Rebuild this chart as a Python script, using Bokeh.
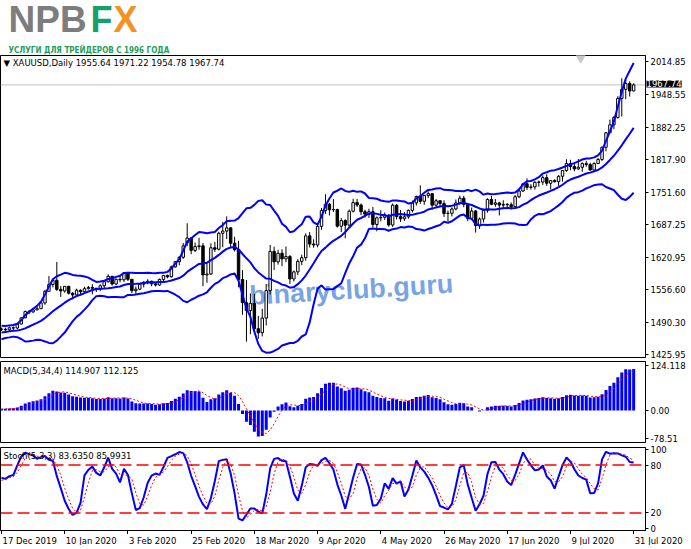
import numpy as np
import pandas as pd
from bokeh.plotting import figure
from bokeh.layouts import column
from bokeh.models import FixedTicker, Range1d, Label, Span, ColumnDataSource, NumeralTickFormatter
from bokeh.core.properties import value
from bokeh.embed import file_html
from bokeh.resources import INLINE

# ---------------- data ----------------
# bars before the first visible one (27 Nov - 16 Dec 2019), needed by the indicators
hist_open = [1461.5, 1454.5, 1457.5, 1463.3, 1463.5, 1477.1, 1474.3, 1474.6, 1459.9, 1462.6, 1464.8, 1475.2, 1470.2, 1475.4]
hist_high = [1462.5, 1459.5, 1466.0, 1467.0, 1479.5, 1485.0, 1482.5, 1477.5, 1466.0, 1469.0, 1477.0, 1484.0, 1485.0, 1479.0]
hist_low = [1451.5, 1453.5, 1454.5, 1454.0, 1462.5, 1470.0, 1471.5, 1458.0, 1458.5, 1460.5, 1461.5, 1466.0, 1460.0, 1472.5]
hist_close = [1454.5, 1457.5, 1463.3, 1463.5, 1477.1, 1474.3, 1474.6, 1459.9, 1462.6, 1464.8, 1475.2, 1470.2, 1475.4, 1476.3]

# visible daily bars, 17 Dec 2019 .. 31 Jul 2020
opens = [1476.3, 1475.9, 1474.8, 1478.9, 1478.5, 1486.5, 1499.0, 1511.5, 1510.8, 1514.9,
         1517.3, 1528.9, 1552.4, 1566.0, 1574.5, 1556.2, 1553.0, 1562.3, 1548.5, 1545.0,
         1554.5, 1551.5, 1557.5, 1560.0, 1558.5, 1556.5, 1563.4, 1571.5, 1582.6, 1567.0,
         1576.5, 1575.5, 1589.2, 1576.5, 1553.5, 1556.6, 1566.8, 1570.5, 1572.5, 1567.4,
         1565.0, 1576.2, 1584.2, 1581.5, 1601.5, 1612.0, 1620.8, 1650.0, 1659.5, 1634.7,
         1642.3, 1643.8, 1585.3, 1587.0, 1640.0, 1637.0, 1669.0, 1673.5, 1680.0, 1649.0,
         1636.0, 1576.0, 1529.5, 1513.5, 1528.0, 1477.0, 1469.0, 1498.5, 1553.8, 1632.7,
         1611.6, 1628.8, 1617.5, 1622.3, 1577.2, 1591.4, 1612.5, 1620.0, 1663.9, 1647.4,
         1645.5, 1683.0, 1714.7, 1727.4, 1716.5, 1717.0, 1683.4, 1694.6, 1685.5, 1713.5,
         1731.0, 1726.0, 1712.5, 1707.5, 1712.5, 1686.8, 1700.2, 1701.3, 1705.5, 1685.8,
         1725.6, 1702.7, 1698.2, 1702.3, 1715.2, 1730.3, 1743.2, 1733.5, 1745.2, 1748.8,
         1725.6, 1734.6, 1728.9, 1709.0, 1709.4, 1718.0, 1730.1, 1739.6, 1727.4, 1699.2,
         1714.0, 1684.6, 1697.8, 1715.2, 1737.2, 1727.5, 1730.2, 1725.8, 1727.3, 1726.5,
         1722.7, 1742.6, 1754.2, 1768.7, 1761.5, 1762.5, 1771.7, 1772.2, 1781.0, 1769.8,
         1775.2, 1773.0, 1783.8, 1795.3, 1809.6, 1803.5, 1798.6, 1802.0, 1809.3, 1807.3,
         1796.5, 1809.5, 1817.7, 1842.2, 1871.4, 1887.4, 1902.1, 1940.5, 1958.8, 1970.5,
         1955.64]
highs = [1479.5, 1479.0, 1481.2, 1481.6, 1487.5, 1499.7, 1513.5, 1514.9, 1519.1, 1523.4,
         1529.9, 1555.4, 1582.8, 1576.1, 1611.4, 1562.8, 1562.5, 1563.5, 1550.5, 1557.7,
         1556.2, 1561.5, 1563.1, 1566.7, 1559.0, 1566.4, 1573.6, 1586.6, 1583.0, 1578.0,
         1584.0, 1589.9, 1591.5, 1576.8, 1562.0, 1568.5, 1572.8, 1576.5, 1574.0, 1569.5,
         1578.0, 1585.0, 1586.0, 1604.0, 1612.5, 1623.0, 1649.5, 1689.3, 1661.5, 1650.5,
         1660.0, 1649.5, 1611.5, 1649.0, 1652.0, 1672.0, 1692.0, 1703.0, 1681.5, 1662.0,
         1654.0, 1595.0, 1575.0, 1548.0, 1547.0, 1503.0, 1517.0, 1567.0, 1645.5, 1642.0,
         1636.0, 1637.0, 1642.5, 1625.5, 1594.0, 1617.0, 1626.0, 1669.0, 1671.5, 1657.0,
         1690.0, 1720.0, 1747.7, 1730.0, 1738.0, 1718.5, 1700.0, 1697.5, 1717.0, 1738.5,
         1738.0, 1729.0, 1716.5, 1718.5, 1722.0, 1703.0, 1715.5, 1711.0, 1707.5, 1729.0,
         1728.0, 1716.0, 1711.5, 1717.0, 1735.0, 1745.0, 1765.5, 1746.5, 1753.5, 1750.0,
         1738.0, 1735.0, 1735.5, 1715.0, 1721.0, 1737.0, 1745.0, 1744.5, 1729.0, 1721.0,
         1716.0, 1701.0, 1718.5, 1739.5, 1744.5, 1738.0, 1732.5, 1735.5, 1730.0, 1731.0,
         1746.0, 1756.0, 1769.0, 1779.5, 1768.0, 1774.0, 1775.0, 1785.5, 1788.0, 1776.0,
         1778.0, 1786.0, 1796.5, 1818.0, 1817.0, 1808.5, 1818.5, 1812.0, 1815.0, 1811.0,
         1812.0, 1820.5, 1843.5, 1872.5, 1898.0, 1905.0, 1945.0, 1981.0, 1977.0, 1975.0,
         1971.22]
lows = [1472.5, 1472.8, 1472.0, 1474.3, 1476.5, 1485.9, 1498.0, 1506.6, 1509.0, 1514.0,
        1517.0, 1525.2, 1552.2, 1560.0, 1553.2, 1540.9, 1549.5, 1546.0, 1536.2, 1542.0,
        1546.3, 1549.0, 1556.0, 1546.2, 1551.0, 1553.0, 1558.0, 1570.0, 1563.8, 1564.5,
        1570.5, 1570.8, 1573.0, 1548.5, 1547.0, 1554.5, 1560.2, 1566.5, 1562.5, 1562.0,
        1563.0, 1572.5, 1578.5, 1580.0, 1600.0, 1604.5, 1617.5, 1643.0, 1627.0, 1631.0,
        1636.0, 1562.5, 1569.5, 1585.5, 1631.5, 1634.5, 1641.0, 1657.5, 1640.5, 1632.5,
        1560.5, 1505.0, 1451.0, 1466.0, 1472.0, 1456.5, 1461.5, 1483.5, 1546.0, 1595.0,
        1606.0, 1603.0, 1611.0, 1567.0, 1572.0, 1585.0, 1605.0, 1614.0, 1640.5, 1640.0,
        1641.0, 1676.0, 1708.0, 1705.0, 1712.0, 1680.5, 1671.5, 1659.0, 1681.5, 1711.0,
        1722.0, 1705.5, 1701.0, 1700.0, 1681.0, 1673.0, 1693.0, 1696.0, 1682.5, 1682.0,
        1697.0, 1692.0, 1694.0, 1698.5, 1711.0, 1725.0, 1728.5, 1726.5, 1740.0, 1717.0,
        1722.5, 1723.5, 1702.0, 1693.0, 1703.0, 1715.5, 1727.0, 1721.5, 1693.5, 1697.0,
        1670.5, 1678.0, 1691.0, 1710.5, 1725.5, 1722.5, 1705.0, 1719.0, 1717.5, 1717.0,
        1721.0, 1740.0, 1752.0, 1756.5, 1757.0, 1757.0, 1763.0, 1766.5, 1764.5, 1757.0,
        1771.0, 1764.5, 1773.0, 1793.0, 1796.0, 1794.0, 1797.0, 1793.0, 1803.0, 1795.0,
        1796.0, 1808.5, 1814.5, 1834.0, 1871.0, 1878.5, 1900.0, 1904.0, 1939.0, 1944.5,
        1954.78]
closes = [1475.9, 1474.8, 1478.9, 1478.5, 1486.5, 1498.9, 1511.5, 1510.8, 1514.9, 1517.3,
          1528.9, 1552.4, 1566.0, 1574.5, 1556.2, 1553.0, 1562.3, 1548.5, 1545.0, 1554.5,
          1551.5, 1557.5, 1560.0, 1558.5, 1556.5, 1563.4, 1571.5, 1582.6, 1567.0, 1576.5,
          1575.5, 1589.2, 1576.5, 1553.5, 1556.6, 1566.8, 1570.5, 1572.5, 1567.4, 1565.0,
          1576.2, 1584.2, 1581.5, 1601.5, 1612.0, 1620.8, 1643.6, 1659.5, 1634.7, 1642.3,
          1643.8, 1585.3, 1587.0, 1640.0, 1637.0, 1669.0, 1673.5, 1680.0, 1649.0, 1636.0,
          1576.0, 1529.5, 1513.5, 1528.0, 1477.0, 1469.0, 1498.5, 1553.8, 1632.7, 1611.6,
          1628.8, 1617.5, 1622.3, 1577.2, 1591.4, 1612.5, 1620.0, 1663.9, 1647.4, 1645.5,
          1683.0, 1714.7, 1727.4, 1716.5, 1717.0, 1683.4, 1694.6, 1685.5, 1713.5, 1731.0,
          1726.0, 1712.5, 1707.5, 1712.5, 1686.8, 1700.2, 1701.3, 1705.5, 1685.8, 1725.6,
          1702.7, 1698.2, 1702.3, 1715.2, 1730.3, 1743.2, 1733.5, 1745.2, 1748.8, 1725.6,
          1734.6, 1728.9, 1709.0, 1709.4, 1718.0, 1730.1, 1739.6, 1727.4, 1699.2, 1714.0,
          1684.6, 1697.8, 1715.2, 1737.2, 1727.5, 1730.2, 1725.8, 1727.3, 1726.5, 1722.7,
          1742.6, 1754.2, 1768.7, 1761.5, 1762.5, 1771.7, 1772.2, 1781.0, 1769.8, 1775.2,
          1773.0, 1783.8, 1795.3, 1809.6, 1803.5, 1798.6, 1802.0, 1809.3, 1807.3, 1796.5,
          1809.5, 1817.7, 1842.2, 1871.4, 1887.4, 1902.1, 1940.5, 1958.8, 1970.5, 1955.6,
          1967.74]

date_ticks = [0, 16, 32, 48, 64, 80, 96, 112, 128, 144, 160]
date_labels = ["17 Dec 2019", "10 Jan 2020", "3 Feb 2020", "25 Feb 2020", "18 Mar 2020",
               "9 Apr 2020", "4 May 2020", "26 May 2020", "17 Jun 2020", "9 Jul 2020", "31 Jul 2020"]
price_ticks = [2014.85, 1948.55, 1882.25, 1817.90, 1751.60, 1687.25, 1620.95, 1556.60, 1490.30, 1425.95]
macd_ticks = [124.118, 0.0, -78.51]
macd_tick_labels = ["124.118", "0.00", "-78.51"]
stoch_ticks = [100, 80, 20, 0]
stoch_levels = [80, 20]
bid_price = 1967.74
bb_period, bb_dev = 14, 2.0
macd_fast, macd_slow, macd_sig = 5, 34, 4
st_k, st_slow, st_d = 5, 3, 3

# ---------------- indicators ----------------
n_hist = len(hist_close)
c = pd.Series(hist_close + closes, dtype=float)
h = pd.Series(hist_high + highs, dtype=float)
lo = pd.Series(hist_low + lows, dtype=float)


def ema(series, n, seed):
    k = 2.0 / (n + 1)
    e = seed
    out = []
    for v in series:
        e = e + k * (v - e)
        out.append(e)
    return pd.Series(out)


seed = float(np.mean(hist_close))
macd_main = ema(c, macd_fast, seed) - ema(c, macd_slow, seed)
macd_signal = macd_main.rolling(macd_sig, min_periods=1).mean()
bb_mid = c.rolling(bb_period, min_periods=1).mean()
bb_sd = c.rolling(bb_period, min_periods=1).std(ddof=0)
bb_up = bb_mid + bb_dev * bb_sd
bb_lo = bb_mid - bb_dev * bb_sd
ll = lo.rolling(st_k, min_periods=1).min()
hh = h.rolling(st_k, min_periods=1).max()
st_main = 100 * (c - ll).rolling(st_slow, min_periods=1).sum() / (hh - ll).rolling(st_slow, min_periods=1).sum()
st_signal = st_main.rolling(st_d, min_periods=1).mean()

N = len(closes)
xs = list(range(N))
vis = slice(n_hist, None)

# ---------------- layout constants (pixels) ----------------
FONT = "DejaVu Sans"
TOTAL_W = 691
FW = 645
RB = TOTAL_W - FW
X0, X1 = -0.253, 163.0
PX_PER_BAR = FW / (X1 - X0)
XR = Range1d(X0, X1)
Y0, Y1 = 1419.1, 2026.9
SLOT = 8          # height Bokeh gives one small text annotation in a side panel
TOP = 55          # reference position of the main frame's top edge


def style_axis(ax):
    ax.major_label_text_font = FONT
    ax.major_label_text_font_size = "8.5px"
    ax.major_label_text_color = "black"
    ax.axis_line_color = "black"
    ax.major_tick_line_color = "black"
    ax.major_tick_in = 0
    ax.major_tick_out = 3
    ax.minor_tick_line_color = None
    ax.major_label_standoff = 2


def base_fig(fh, yr, top, bottom, xloc=None):
    f = figure(frame_width=FW, frame_height=fh, x_range=XR,
               y_range=yr, x_axis_location=xloc, y_axis_location="right",
               output_backend="svg", toolbar_location=None,
               min_border_left=0, min_border_right=RB, min_border_top=top, min_border_bottom=bottom,
               background_fill_color="white", border_fill_color="white")
    f.outline_line_color = "black"
    f.outline_line_width = 1
    f.grid.visible = False
    return f


# ---------------- logo strip ----------------
LH = TOP - 2 * SLOT
pl = figure(frame_width=TOTAL_W, frame_height=LH, x_range=Range1d(0, TOTAL_W), y_range=Range1d(0, LH),
            x_axis_location=None, y_axis_location=None, output_backend="svg", toolbar_location=None,
            min_border=0, background_fill_color="white", border_fill_color="white")
pl.outline_line_color = None
pl.grid.visible = False
LOGO_FONT = "Liberation Sans"
for txt, x0, col, sz in (("NPB", 8, "#7d7d7d", "37px"), ("F", 90, "#16a06c", "36px"),
                         ("X", 113, "#f39325", "36px")):
    pl.add_layout(Label(x=x0, y=LH - 18.5, text=txt, text_font=LOGO_FONT, text_font_style="bold",
                        text_font_size=sz, text_color=col, text_baseline="middle"))

# ---------------- main price panel ----------------
MH = 302
p = base_fig(MH, Range1d(Y0, Y1), 0, 3)
style_axis(p.yaxis[0])
p.yaxis[0].ticker = FixedTicker(ticks=price_ticks)
p.yaxis[0].formatter = NumeralTickFormatter(format="0.00")

# two small side-panel annotations above the frame (not clipped to the frame):
# slot nearest the frame carries the logo's subtitle, the next one the current-price tag
p.add_layout(Label(x=8, y=TOP - 49.5, x_units="screen", y_units="screen",
                   text="УСЛУГИ ДЛЯ ТРЕЙДЕРОВ С 1996 ГОДА",
                   text_font="'DejaVu Sans Condensed', 'Liberation Sans Narrow', 'Liberation Sans'",
                   text_font_style="bold", text_font_size="8px", text_color="#1f9e5a",
                   text_baseline="alphabetic"), "above")
tag_offset = (Y1 - bid_price) / (Y1 - Y0) * MH
p.add_layout(Label(x=FW + 1, y=-(tag_offset + SLOT), x_units="screen", y_units="screen", text="1967.74",
                   text_font=FONT, text_font_size="8.5px", text_baseline="middle", text_color="white",
                   background_fill_color="black"), "above")

p.add_layout(Span(location=bid_price, dimension="width", line_color="#c0c0c0", line_width=1, level="underlay"))

p.add_layout(Label(x=63.0, y=1513, text="binaryclub.guru", angle=0.06, text_font="Liberation Sans",
                   text_font_style="bold", text_font_size="27px", text_color="#5f93e0", text_alpha=0.85,
                   level="underlay"))

src = ColumnDataSource(dict(x=xs, o=opens, h=highs, l=lows, c=closes))
inc = [i for i in xs if closes[i] >= opens[i]]
dec = [i for i in xs if closes[i] < opens[i]]
p.segment(x0="x", y0="h", x1="x", y1="l", source=src, line_color="black", line_width=1)
p.vbar(x=[xs[i] for i in inc], bottom=[opens[i] for i in inc], top=[closes[i] for i in inc], width=0.62,
       fill_color="white", line_color="black", line_width=1)
p.vbar(x=[xs[i] for i in dec], bottom=[closes[i] for i in dec], top=[opens[i] for i in dec], width=0.62,
       fill_color="black", line_color="black", line_width=1)

for band in (bb_up, bb_mid, bb_lo):
    p.line(xs, list(band[vis]), line_color="#0000ff", line_width=2)

p.scatter([146.6], [2022.0], marker="inverted_triangle", size=9, color="#c8c8c8")

p.add_layout(Label(x=3, y=MH - 7, x_units="screen", y_units="screen",
                   text="\u25bc XAUUSD,Daily  1955.64 1971.22 1954.78 1967.74",
                   text_font=FONT, text_font_size="8.5px", text_baseline="middle", text_color="black"))

# ---------------- MACD panel ----------------
MCH = 81
pm = base_fig(MCH, Range1d(-88.2, 135.7), 1, 2)
style_axis(pm.yaxis[0])
pm.yaxis[0].ticker = FixedTicker(ticks=macd_ticks)
pm.yaxis[0].major_label_overrides = dict(zip(macd_ticks, macd_tick_labels))
pm.vbar(x=xs, top=list(macd_main[vis]), bottom=0, width=0.76, fill_color="#0000ff", line_color=None)
pm.line(xs, list(macd_signal[vis]), line_color="#ff0000", line_dash="2 2", line_width=1)
pm.add_layout(Label(x=3, y=MCH - 9, x_units="screen", y_units="screen",
                    text="MACD(5,34,4) 114.907 112.125", text_font=FONT, text_font_size="8.5px",
                    text_baseline="middle", text_color="black"))

# ---------------- Stochastic panel ----------------
SH = 83
ps = base_fig(SH, Range1d(-2, 102), 3, 0, xloc="below")
style_axis(ps.yaxis[0])
ps.yaxis[0].ticker = FixedTicker(ticks=stoch_ticks)
style_axis(ps.xaxis[0])
ps.xaxis[0].ticker = FixedTicker(ticks=date_ticks)
ps.xaxis[0].major_label_overrides = {t: "" for t in date_ticks}
ps.xaxis[0].major_label_text_font_size = "1px"
ps.xaxis[0].major_label_standoff = 0
ps.xaxis[0].major_tick_out = 4
for lv in stoch_levels:
    ps.add_layout(Span(location=lv, dimension="width", line_color="#ff0000", line_dash="12 5", line_width=1.5))
ps.line(xs, list(st_main[vis]), line_color="#0000ff", line_width=2)
ps.line(xs, list(st_signal[vis]), line_color="#ff0000", line_dash="2 2", line_width=1)
ps.add_layout(Label(x=3, y=SH - 8, x_units="screen", y_units="screen",
                    text="Stoch(5,3,3) 83.6350 85.9931", text_font=FONT, text_font_size="8.5px",
                    text_baseline="middle", text_color="black"))

# ---------------- date labels (MT4 writes each date to the right of its tick) ----------------
DH = 11
pdt = figure(frame_width=TOTAL_W, frame_height=DH, x_range=Range1d(X0, X0 + TOTAL_W / PX_PER_BAR),
             y_range=Range1d(0, DH), x_axis_location=None, y_axis_location=None,
             output_backend="svg", toolbar_location=None, min_border=0,
             background_fill_color="white", border_fill_color="white")
pdt.outline_line_color = None
pdt.grid.visible = False
pdt.text(x=date_ticks, y=[DH] * len(date_ticks), text=date_labels, x_offset=1,
         text_align="left", text_baseline="top", text_font=value(FONT),
         text_font_size=value("8.5px"), text_color="black")

layout = column(pl, p, pm, ps, pdt, spacing=0)
open("out.html", "w").write(file_html(layout, INLINE, title="XAUUSD Daily"))
